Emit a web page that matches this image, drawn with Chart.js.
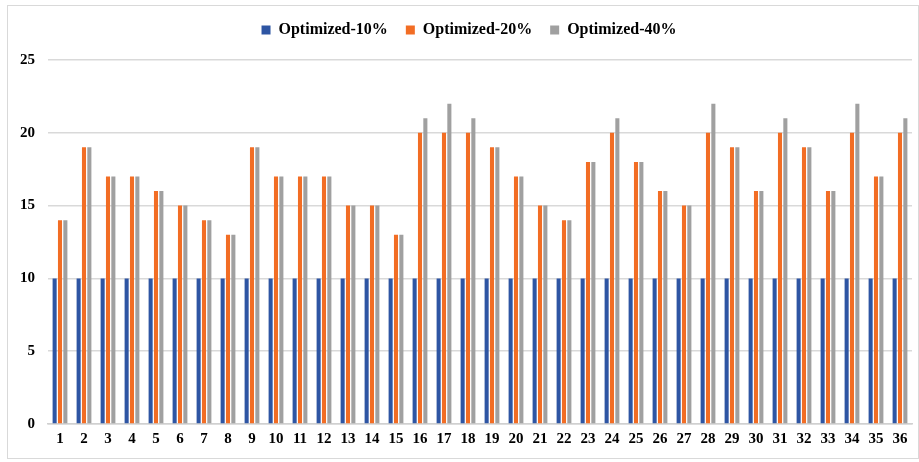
<!DOCTYPE html>
<html>
<head>
<meta charset="utf-8">
<title>Optimized comparison</title>
<script src="https://cdn.jsdelivr.net/npm/chart.js@4.4.0/dist/chart.umd.min.js"></script>
<style>
  body { margin: 0; background: #fff; }
  .frame {
    position: absolute;
    left: 7px;
    top: 5px;
    width: 910px;
    height: 452px;
    border: 1px solid #d9d9d9;
  }
</style>
</head>
<body>
<div class="frame">
  <canvas id="barChart" width="910" height="452"></canvas>
</div>
<script>
// Chart data
const categories = ['1','2','3','4','5','6','7','8','9','10','11','12','13','14','15','16','17','18',
  '19','20','21','22','23','24','25','26','27','28','29','30','31','32','33','34','35','36'];
const optimized10 = [10,10,10,10,10,10,10,10,10,10,10,10,10,10,10,10,10,10,
  10,10,10,10,10,10,10,10,10,10,10,10,10,10,10,10,10,10];
const optimized20 = [14,19,17,17,16,15,14,13,19,17,17,17,15,15,13,20,20,20,
  19,17,15,14,18,20,18,16,15,20,19,16,20,19,16,20,17,20];
const optimized40 = [14,19,17,17,16,15,14,13,19,17,17,17,15,15,13,21,22,21,
  19,17,15,14,18,21,18,16,15,22,19,16,21,19,16,22,17,21];
const yTicks = [0, 5, 10, 15, 20, 25];

const serif = '"Liberation Serif", "Times New Roman", serif';
const tickFont = { family: serif, size: 15, weight: 'bold' };
const legendFont = { family: serif, size: 16, weight: 'bold' };

// Fix legend block height and nudge it, like the original
const legendSpacer = {
  id: 'legendSpacer',
  beforeInit(chart) {
    const fit = chart.legend.fit;
    chart.legend.fit = function () {
      fit.call(this);
      this.height = 48;
    };
  },
  afterLayout(chart) {
    chart.legend.top -= 8;
    chart.legend.bottom -= 8;
    chart.legend.left += 9;
    chart.legend.right += 9;
  },
};

const ctx = document.getElementById('barChart');
new Chart(ctx.getContext('2d'), {
  type: 'bar',
  data: {
    labels: categories,
    datasets: [
      { label: 'Optimized-10%', data: optimized10, backgroundColor: '#2E55A3' },
      { label: 'Optimized-20%', data: optimized20, backgroundColor: '#F26D24' },
      { label: 'Optimized-40%', data: optimized40, backgroundColor: '#A0A0A0' },
    ],
  },
  options: {
    responsive: false,
    animation: false,
    layout: { padding: { left: 0, right: 6, top: 6, bottom: 4 } },
    datasets: {
      bar: { categoryPercentage: 0.67, barPercentage: 0.76 },
    },
    scales: {
      x: {
        grid: { display: false, drawTicks: false },
        border: { color: '#d0d0d0', width: 1.5 },
        ticks: { color: '#000', font: tickFont, padding: 6, maxRotation: 0, autoSkip: false },
      },
      y: {
        min: 0,
        max: 25,
        afterBuildTicks: (axis) => { axis.ticks = yTicks.map(v => ({ value: v })); },
        afterFit: (axis) => { axis.width = 40; },
        grid: { color: '#d9d9d9', lineWidth: 1.5, drawTicks: false },
        border: { display: false },
        ticks: { color: '#000', font: tickFont, padding: 13 },
      },
    },
    plugins: {
      legend: {
        position: 'top',
        labels: {
          color: '#000',
          font: legendFont,
          boxWidth: 9,
          boxHeight: 9,
          padding: 18,
        },
      },
      tooltip: { enabled: false },
    },
  },
  plugins: [legendSpacer],
});
</script>
</body>
</html>
